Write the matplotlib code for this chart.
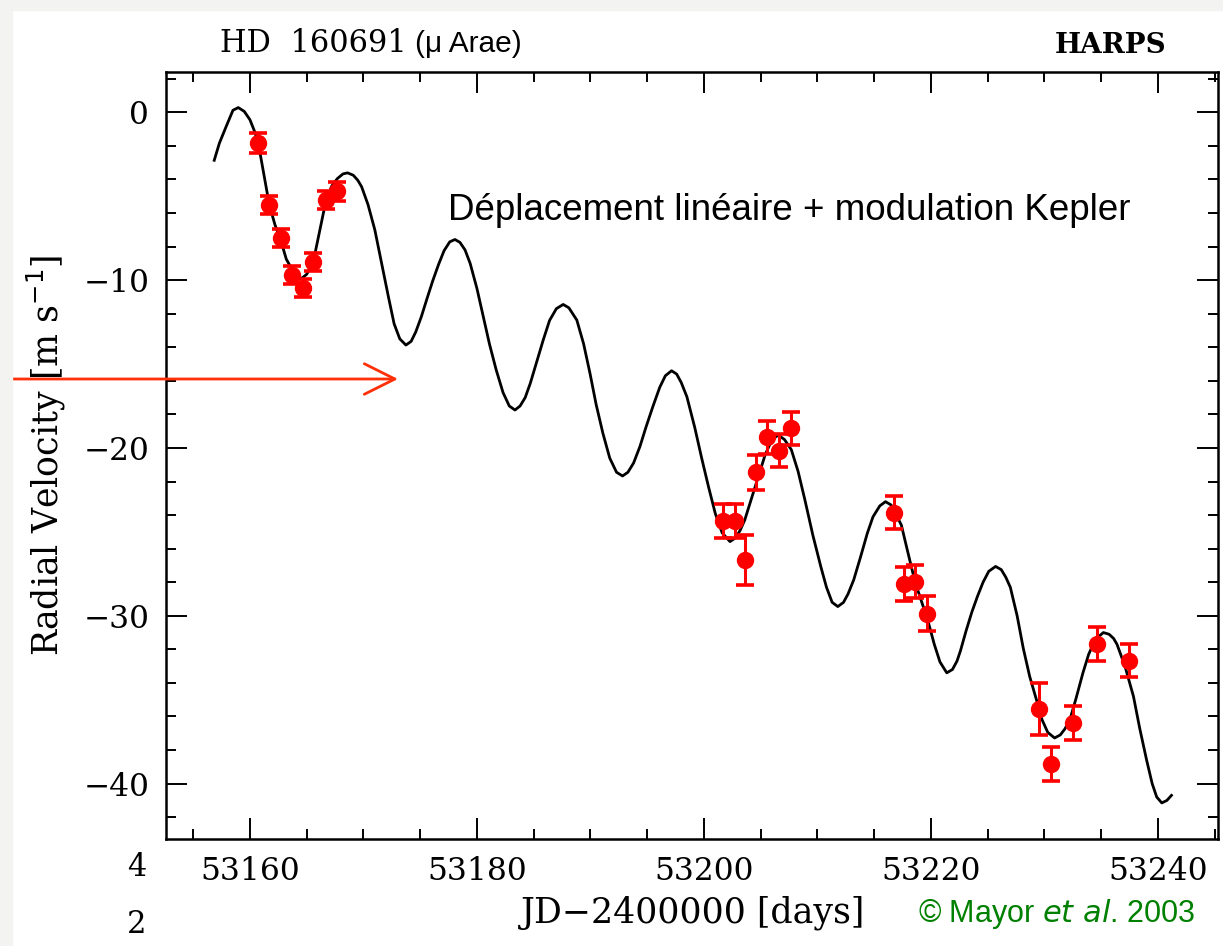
# -*- coding: utf-8 -*-

# HARPS radial velocities of HD 160691 (mu Arae) with linear drift + Kepler fit

import numpy as np
import matplotlib
matplotlib.use("Agg")
import matplotlib.pyplot as plt
from matplotlib.patches import Rectangle
from matplotlib.ticker import MultipleLocator

# Measured points (JD - 2400000, m/s) and their error bars
jd = [53160.73, 53161.70, 53162.70, 53163.70, 53164.70, 53165.58, 53166.70, 53167.70,
      53201.70, 53202.70, 53203.60, 53204.60, 53205.60, 53206.60, 53207.70,
      53216.77, 53217.65, 53218.60, 53219.70,
      53229.50, 53230.60, 53232.50, 53234.60, 53237.50]
rv = [-1.83, -5.54, -7.51, -9.70, -10.46, -8.94, -5.22, -4.72,
      -24.35, -24.35, -26.68, -21.46, -19.37, -20.16, -18.83,
      -23.85, -28.09, -27.97, -29.89,
      -35.56, -38.83, -36.40, -31.68, -32.67]
err = [0.58, 0.54, 0.54, 0.54, 0.54, 0.54, 0.54, 0.54,
       1.00, 1.00, 1.50, 1.04, 0.98, 1.00, 1.00,
       1.00, 1.00, 1.00, 1.04,
       1.55, 1.00, 1.00, 1.04, 1.00]

# Fitted curve
model_jd = [53156.85, 53157.30, 53157.90, 53158.50, 53158.97, 53159.50, 53160.00, 53160.44,
            53160.73, 53161.20, 53161.70, 53162.20, 53162.70, 53163.20, 53163.70, 53164.10,
            53164.55, 53165.00, 53165.58, 53166.10, 53166.70, 53167.20, 53167.70, 53168.20,
            53168.60, 53169.10, 53169.50, 53169.84, 53170.40, 53171.00, 53171.60, 53172.20,
            53172.70, 53173.20, 53173.74, 53174.20, 53174.60, 53175.10, 53175.60, 53176.10,
            53176.60, 53177.10, 53177.60, 53178.06, 53178.50, 53178.95, 53179.40, 53180.00,
            53180.56, 53181.10, 53181.70, 53182.30, 53182.85, 53183.35, 53183.80, 53184.25,
            53184.70, 53185.25, 53185.84, 53186.40, 53187.00, 53187.60, 53188.10, 53188.80,
            53189.40, 53189.96, 53190.50, 53191.10, 53191.70, 53192.30, 53192.83, 53193.30,
            53193.80, 53194.36, 53194.90, 53195.50, 53196.10, 53196.60, 53197.15, 53197.60,
            53198.00, 53198.50, 53199.20, 53199.80, 53200.40, 53201.00, 53201.60, 53202.30,
            53202.80, 53203.20, 53203.60, 53204.20, 53204.80, 53205.40, 53206.00, 53206.55,
            53207.10, 53207.70, 53208.30, 53208.90, 53209.60, 53210.30, 53210.80, 53211.30,
            53211.80, 53212.30, 53212.70, 53213.20, 53213.80, 53214.40, 53214.90, 53215.50,
            53216.00, 53216.50, 53216.77, 53217.40, 53218.00, 53218.60, 53219.20, 53219.70,
            53220.30, 53220.80, 53221.40, 53221.90, 53222.30, 53222.60, 53223.10, 53223.60,
            53224.10, 53224.60, 53225.10, 53225.70, 53226.20, 53226.60, 53227.00, 53227.60,
            53228.13, 53228.70, 53229.30, 53229.80, 53230.30, 53230.90, 53231.40, 53231.80,
            53232.25, 53232.80, 53233.40, 53233.90, 53234.50, 53235.20, 53235.70, 53236.10,
            53236.40, 53237.10, 53237.85, 53238.40, 53239.00, 53239.50, 53239.90, 53240.35,
            53240.80, 53241.20]
model_rv = [-2.86, -1.85, -0.85, 0.12, 0.28, 0.05, -0.45, -1.20,
            -1.83, -3.60, -5.50, -6.70, -7.60, -8.75, -9.35, -9.75,
            -9.90, -9.65, -8.90, -7.20, -5.25, -4.40, -3.95, -3.67,
            -3.61, -3.75, -4.05, -4.44, -5.50, -7.00, -9.00, -11.00,
            -12.60, -13.50, -13.87, -13.65, -13.10, -12.18, -11.10, -10.05,
            -9.10, -8.25, -7.72, -7.58, -7.75, -8.20, -9.00, -10.50,
            -12.18, -13.80, -15.36, -16.70, -17.50, -17.74, -17.50, -17.00,
            -16.15, -14.90, -13.57, -12.40, -11.70, -11.45, -11.65, -12.38,
            -13.80, -15.55, -17.40, -19.13, -20.60, -21.45, -21.67, -21.45,
            -20.90, -19.92, -18.75, -17.54, -16.40, -15.70, -15.40, -15.60,
            -16.10, -16.95, -18.80, -20.60, -22.30, -23.90, -25.05, -25.58,
            -25.35, -24.90, -24.29, -23.00, -21.70, -20.40, -19.50, -19.23,
            -19.50, -20.10, -21.40, -23.10, -25.20, -27.07, -28.30, -29.20,
            -29.45, -29.20, -28.70, -27.86, -26.50, -25.08, -24.10, -23.45,
            -23.20, -23.40, -23.75, -24.60, -26.30, -27.97, -29.20, -30.20,
            -31.70, -32.75, -33.40, -33.20, -32.70, -32.10, -30.90, -29.80,
            -28.85, -28.00, -27.35, -27.06, -27.25, -27.70, -28.30, -30.00,
            -31.90, -33.60, -35.00, -36.20, -36.95, -37.28, -37.10, -36.75,
            -36.19, -34.90, -33.40, -32.30, -31.40, -31.00, -31.10, -31.35,
            -31.70, -33.00, -34.80, -36.70, -38.57, -40.00, -40.80, -41.15,
            -41.00, -40.70]

W, H = 1223, 946
fig = plt.figure(figsize=(W / 100, H / 100), dpi=100)

def fx(x):
    return x / W

def fy(y):
    return 1 - y / H

# light page border on the left and top
fig.patches.append(Rectangle((0, 0), fx(12), 1, transform=fig.transFigure,
                             color="#f3f3f1", zorder=0))
fig.patches.append(Rectangle((0, fy(10)), 1, 1, transform=fig.transFigure,
                             color="#f3f3f1", zorder=0))

ax = fig.add_axes([fx(166), fy(839), fx(1218) - fx(166), fy(72) - fy(839)])

serif = "DejaVu Serif"
sans = "Liberation Sans"

ax.plot(model_jd, model_rv, color="black", lw=2.0, zorder=2)
ax.errorbar(jd, rv, yerr=err, fmt="o", color="red", ms=11.5, elinewidth=2.2,
            capsize=6.5, capthick=2.6, zorder=3)

ax.set_xlim(53152.6, 53245.3)
ax.set_ylim(-43.3, 2.4)
ax.xaxis.set_major_locator(MultipleLocator(20))
ax.xaxis.set_minor_locator(MultipleLocator(5))
ax.yaxis.set_major_locator(MultipleLocator(10))
ax.yaxis.set_minor_locator(MultipleLocator(2))
ax.tick_params(which="both", direction="in", top=True, right=True, width=1.4)
ax.tick_params(which="major", length=15)
ax.tick_params(which="minor", length=7)
ax.tick_params(axis="x", pad=12)
ax.tick_params(axis="y", pad=12)
for s in ax.spines.values():
    s.set_linewidth(1.8)
for lab in ax.get_xticklabels() + ax.get_yticklabels():
    lab.set_fontfamily(serif)
    lab.set_fontsize(22.5)

ax.set_xlabel("JD\u22122400000 [days]", fontfamily=serif, fontsize=25)
ax.xaxis.set_label_coords(0.501, -0.074)
ax.set_ylabel("Radial Velocity [m s$^{-1}$]", fontfamily=serif, fontsize=25)
ax.yaxis.set_label_coords(-0.093, 0.5)

# header texts
fig.text(fx(220), fy(52), "HD  160691", fontfamily=serif, fontsize=22, va="baseline")
fig.text(fx(415), fy(52), "(\u03bc Arae)", fontfamily=sans, fontsize=21.5, va="baseline")
fig.text(fx(1166), fy(53), "HARPS", fontfamily=serif, fontsize=20, fontweight="bold",
         ha="right", va="baseline")

ax.text(0.268, 0.82, "D\u00e9placement lin\u00e9aire + modulation Kepler",
        transform=ax.transAxes, fontfamily=sans, fontsize=26.5, va="center")

# stray digits at the lower left
fig.text(fx(137), fy(876), "4", fontfamily=serif, fontsize=22, ha="center", va="baseline")
fig.text(fx(137), fy(933), "2", fontfamily=serif, fontsize=22, ha="center", va="baseline")

# credit
fig.text(fx(918), fy(922), "\u00a9 Mayor $\\it{et\\ al}$. 2003", fontfamily=sans,
         fontsize=22, color="#008000", va="baseline")

# red arrow pointing at the curve
ax.annotate("", xy=(fx(398), fy(379)), xytext=(0, fy(379)),
            xycoords="figure fraction", textcoords="figure fraction",
            arrowprops=dict(arrowstyle="->,head_length=1.1,head_width=0.55",
                            color="#ff3008", lw=2.0, mutation_scale=20,
                            shrinkA=0, shrinkB=0))

fig.savefig("out.png", dpi=100)
